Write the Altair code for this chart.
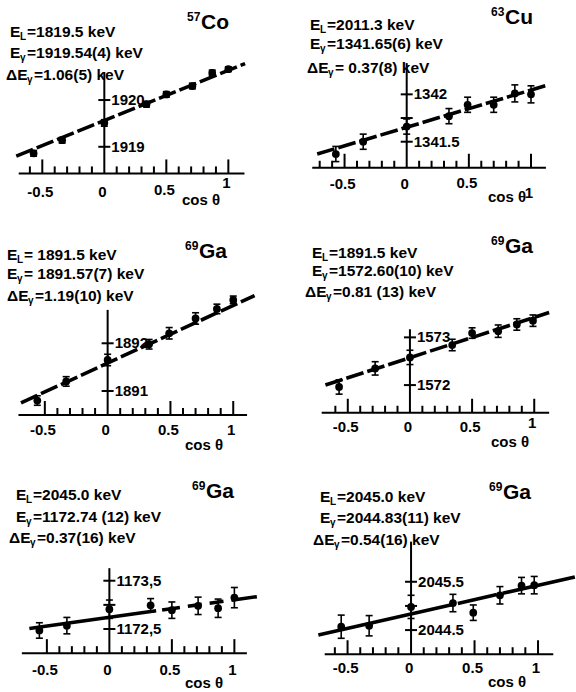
import altair as alt
import pandas as pd

W, H = 288, 230
FONT = "Liberation Sans"

# ---------------- data ----------------
# panel 1: 57Co
cos_p1 = [-0.57, -0.34, 0.0, 0.34, 0.50, 0.71, 0.87, 1.00]
E_p1 = [1918.86, 1919.14, 1919.51, 1919.91, 1920.12, 1920.30, 1920.58, 1920.66]
err_p1 = [0.06, 0.06, 0.07, 0.06, 0.06, 0.06, 0.06, 0.05]
fit_x_p1 = [-0.71, 1.135]
fit_y_p1 = [1918.80, 1920.78]

# panel 2: 63Cu
cos_p2 = [-0.57, -0.35, 0.0, 0.34, 0.49, 0.70, 0.87, 1.00]
E_p2 = [1341.37, 1341.50, 1341.66, 1341.77, 1341.89, 1341.89, 1342.01, 1342.00]
err_p2 = [0.08, 0.08, 0.08, 0.08, 0.08, 0.08, 0.09, 0.09]
fit_x_p2 = [-0.72, 1.14]
fit_y_p2 = [1341.37, 1342.10]

# panel 3: 69Ga 1891.57
cos_p3 = [-0.56, -0.33, 0.0, 0.33, 0.49, 0.70, 0.87, 1.00]
E_p3 = [1890.80, 1891.20, 1891.65, 1891.98, 1892.21, 1892.52, 1892.72, 1892.91]
err_p3 = [0.10, 0.10, 0.12, 0.10, 0.12, 0.12, 0.10, 0.08]
fit_x_p3 = [-0.69, 1.17]
fit_y_p3 = [1890.75, 1893.00]

# panel 4: 69Ga 1572.60
cos_p4 = [-0.57, -0.28, 0.0, 0.34, 0.50, 0.71, 0.86, 0.99]
E_p4 = [1571.96, 1572.35, 1572.58, 1572.84, 1573.09, 1573.13, 1573.27, 1573.35]
err_p4 = [0.15, 0.14, 0.15, 0.12, 0.11, 0.13, 0.12, 0.12]
fit_x_p4 = [-0.68, 1.12]
fit_y_p4 = [1572.00, 1573.52]

# panel 5: 69Ga 1172.74
cos_p5 = [-0.56, -0.34, 0.0, 0.33, 0.50, 0.71, 0.87, 1.00]
E_p5 = [1172.47, 1172.57, 1172.91, 1172.99, 1172.89, 1172.98, 1172.93, 1173.15]
err_p5 = [0.16, 0.17, 0.19, 0.14, 0.17, 0.18, 0.19, 0.21]
fit_x_p5 = [-0.64, 1.18]
fit_y_p5 = [1172.51, 1173.17]

# panel 6: 69Ga 2044.83
cos_p6 = [-0.55, -0.33, 0.0, 0.33, 0.49, 0.70, 0.87, 0.97]
E_p6 = [2044.57, 2044.59, 2044.98, 2045.06, 2044.86, 2045.22, 2045.42, 2045.43]
err_p6 = [0.24, 0.21, 0.24, 0.18, 0.16, 0.18, 0.17, 0.18]
fit_x_p6 = [-0.73, 1.29]
fit_y_p6 = [2044.40, 2045.60]

# header texts
hdr_p1 = [("E", "L", "=1819.5  keV"), ("E", "γ", "=1919.54(4) keV"), ("ΔE", "γ", "=1.06(5) keV")]
hdr_p2 = [("E", "L", " =2011.3 keV"), ("E", "γ", "=1341.65(6) keV"), ("ΔE", "γ", " = 0.37(8) keV")]
hdr_p3 = [("E", "L", " = 1891.5 keV"), ("E", "γ", " = 1891.57(7) keV"), ("ΔE", "γ", "=1.19(10) keV")]
hdr_p4 = [("E", "L", " =1891.5 keV"), ("E", "γ", " =1572.60(10) keV"), ("ΔE", "γ", "=0.81 (13) keV")]
hdr_p5 = [("E", "L", " =2045.0 keV"), ("E", "γ", " =1172.74 (12) keV"), ("ΔE", "γ", "=0.37(16) keV")]
hdr_p6 = [("E", "L", " =2045.0 keV"), ("E", "γ", "=2044.83(11) keV"), ("ΔE", "γ", "=0.54(16) keV")]
iso_mass = ["57", "63", "69", "69", "69", "69"]
iso_elem = ["Co", "Cu", "Ga", "Ga", "Ga", "Ga"]

# y-axis ticks (labelled) and unlabelled half ticks
yt_p1, ytl_p1, ym_p1 = [1919.0, 1920.0], ["1919", "1920"], []
yt_p2, ytl_p2, ym_p2 = [1341.5, 1342.0], ["1341.5", "1342"], [1341.75]
yt_p3, ytl_p3, ym_p3 = [1891.0, 1892.0], ["1891", "1892"], []
yt_p4, ytl_p4, ym_p4 = [1572.0, 1573.0], ["1572", "1573"], []
yt_p5, ytl_p5, ym_p5 = [1172.5, 1173.5], ["1172,5", "1173,5"], [1173.0]
yt_p6, ytl_p6, ym_p6 = [2044.5, 2045.5], ["2044.5", "2045.5"], [2045.0]

xtick_vals = [-0.5, 0.0, 0.5, 1.0]
xtick_text = ["-0.5", "0", "0.5", "1"]
xminor_all = [-0.7, -0.6, -0.4, -0.3, -0.2, -0.1, 0.1, 0.2, 0.3, 0.4, 0.6, 0.7, 0.8, 0.9]
xmajor_all = [-0.5, 0.5, 1.0]

# ---------------- layout (pixels within each 288x230 panel) ----------------
layout = [
    dict(xdom=[-0.841, 1.481], ydom=[1917.22, 1922.14], axisE=1918.43, xspan=[-0.69, 1.13], ytop=1920.6,
         tick0=-0.6, lbl_off=[19, 19, 17, 10], hdr_pos=[(10, 32), (10, 53), (6, 75)], iso_pos=(187, 23),
         cos_pos=(182, 200), dash=[18, 4]),
    dict(xdom=[-0.955, 1.362], ydom=[1340.568, 1342.996], axisE=1341.225, xspan=[-0.76, 1.12], ytop=1342.33,
         tick0=-0.7, lbl_off=[16, 16, 15, 25], hdr_pos=[(22, 25), (22, 44), (19, 68)], iso_pos=(203, 18),
         cos_pos=(200, 197), dash=[18, 4]),
    dict(xdom=[-0.857, 1.436], ydom=[1889.553, 1894.375], axisE=1890.497, xspan=[-0.71, 1.11], ytop=1892.7,
         tick0=-0.5, lbl_off=[15, 15, 15, 15], hdr_pos=[(7, 25), (7, 44), (7, 66)], iso_pos=(185, 22),
         cos_pos=(185, 215), dash=[18, 4]),
    dict(xdom=[-0.981, 1.336], ydom=[1570.43, 1575.25], axisE=1571.42, xspan=[-0.71, 1.12], ytop=1573.17,
         tick0=-0.6, lbl_off=[14, 14, 14, 10], hdr_pos=[(24, 23), (24, 41), (17, 62)], iso_pos=(203, 17),
         cos_pos=(203, 212), dash=[18, 4]),
    dict(xdom=[-0.875, 1.429], ydom=[1171.237, 1176.0], axisE=1172.0, xspan=[-0.70, 1.10], ytop=1173.76,
         tick0=-0.5, lbl_off=[17, 17, 17, 17], hdr_pos=[(16, 35), (16, 57), (9, 78)], iso_pos=(192, 32),
         cos_pos=(185, 223), dash=[128, 6, 18, 8, 14, 8, 14, 8, 30]),
    dict(xdom=[-0.969, 1.299], ydom=[2043.26, 2048.02], axisE=2044.0, xspan=[-0.68, 1.12], ytop=2046.33,
         tick0=-0.6, lbl_off=[14, 14, 14, 14], hdr_pos=[(32, 37), (32, 58), (25, 80)], iso_pos=(201, 33),
         cos_pos=(200, 222), dash=[139, 4, 40, 6, 200]),
]

series = [
    (cos_p1, E_p1, err_p1, fit_x_p1, fit_y_p1, hdr_p1, yt_p1, ytl_p1, ym_p1),
    (cos_p2, E_p2, err_p2, fit_x_p2, fit_y_p2, hdr_p2, yt_p2, ytl_p2, ym_p2),
    (cos_p3, E_p3, err_p3, fit_x_p3, fit_y_p3, hdr_p3, yt_p3, ytl_p3, ym_p3),
    (cos_p4, E_p4, err_p4, fit_x_p4, fit_y_p4, hdr_p4, yt_p4, ytl_p4, ym_p4),
    (cos_p5, E_p5, err_p5, fit_x_p5, fit_y_p5, hdr_p5, yt_p5, ytl_p5, ym_p5),
    (cos_p6, E_p6, err_p6, fit_x_p6, fit_y_p6, hdr_p6, yt_p6, ytl_p6, ym_p6),
]


def make_panel(i):
    L = layout[i]
    cs, es, er, fx, fy, hdr, yt, ytl, ym = series[i]
    x0, x1 = L["xdom"]
    y0, y1 = L["ydom"]

    def to_data(px, py):
        return x0 + px / W * (x1 - x0), y1 - py / H * (y1 - y0)

    def dy_units(px):
        return px * (y1 - y0) / H

    def dx_units(px):
        return px * (x1 - x0) / W

    xs = alt.Scale(domain=L["xdom"], nice=False, zero=False)
    ys = alt.Scale(domain=L["ydom"], nice=False, zero=False)

    def X(f):
        return alt.X(f"{f}:Q", scale=xs, axis=None)

    def Y(f):
        return alt.Y(f"{f}:Q", scale=ys, axis=None)

    ax = float(L["axisE"])
    lo = [e - d for e, d in zip(es, er)]
    hi = [e + d for e, d in zip(es, er)]
    t0 = L["tick0"] - 1e-6
    minor = [t for t in xminor_all if t >= t0]
    major = list(xmajor_all)
    yall = [float(v) for v in list(yt) + list(ym)]

    # vertical segments: y-axis line, error bars, x-axis ticks
    vx, va, vb, vw = [0.0], [ax], [float(L["ytop"])], [2.0]
    for c, l, h in zip(cs, lo, hi):
        vx.append(c); va.append(l); vb.append(h); vw.append(1.6)
    for t in minor:
        vx.append(t); va.append(ax); vb.append(ax + dy_units(7)); vw.append(2.0)
    for t in major:
        vx.append(t); va.append(ax); vb.append(ax + dy_units(14)); vw.append(2.0)
    vdf = pd.DataFrame({"vx": vx, "va": va, "vb": vb, "vw": vw})

    # horizontal segments: x-axis line, error-bar caps, y-axis ticks
    ha, hb, hy, hw = [float(L["xspan"][0])], [float(L["xspan"][1])], [ax], [2.0]
    for c, l, h in zip(cs, lo, hi):
        for v in (l, h):
            ha.append(c - dx_units(3.5)); hb.append(c + dx_units(3.5)); hy.append(v); hw.append(1.6)
    for v in yall:
        ha.append(-dx_units(6)); hb.append(dx_units(6)); hy.append(v); hw.append(2.0)
    hdf = pd.DataFrame({"ha": ha, "hb": hb, "hy": hy, "hw": hw})

    layers = []
    layers.append(
        alt.Chart(vdf).mark_rule(color="black").encode(
            x=X("vx"), y=Y("va"), y2="vb", strokeWidth=alt.StrokeWidth("vw:Q", scale=None))
    )
    layers.append(
        alt.Chart(hdf).mark_rule(color="black").encode(
            x=X("ha"), x2="hb", y=Y("hy"), strokeWidth=alt.StrokeWidth("hw:Q", scale=None))
    )
    # y tick labels
    layers.append(
        alt.Chart(pd.DataFrame({"yl_x": [0.0] * len(yt), "yl_y": yt, "yl_t": ytl}))
        .mark_text(align="left", baseline="middle", dx=7, fontSize=15, font=FONT, fontWeight="bold", color="black")
        .encode(x=X("yl_x"), y=Y("yl_y"), text="yl_t:N")
    )
    # x tick labels
    ly = [ax - dy_units(o) for o in L["lbl_off"]]
    layers.append(
        alt.Chart(pd.DataFrame({"xl_x": list(xtick_vals), "xl_y": ly, "xl_t": xtick_text}))
        .mark_text(align="center", baseline="middle", dx=-2, fontSize=15, font=FONT, fontWeight="bold", color="black")
        .encode(x=X("xl_x"), y=Y("xl_y"), text="xl_t:N")
    )
    # fit line
    layers.append(
        alt.Chart(pd.DataFrame({"f_x": fx, "f_y": fy}))
        .mark_line(color="black", strokeWidth=3.6, strokeDash=L["dash"], clip=True)
        .encode(x=X("f_x"), y=Y("f_y"), order="f_x:Q")
    )
    # points
    layers.append(
        alt.Chart(pd.DataFrame({"pt_x": cs, "pt_E": es}))
        .mark_circle(size=60, color="black", opacity=1)
        .encode(x=X("pt_x"), y=Y("pt_E"))
    )
    # header text
    rows = []
    for (pre, sub, rest), (px, py) in zip(hdr, L["hdr_pos"]):
        w = 10 if pre == "E" else 21
        for t, ox, oy, fs in [(pre, 0, 0, 15.5), (sub, w, 5, 10), (rest, w + 7, 0, 15.5)]:
            dx_, dy_ = to_data(px + ox, py + oy)
            rows.append({"h_x": dx_, "h_y": dy_, "h_t": t, "h_fs": fs})
    ix, iy = L["iso_pos"]
    a, b = to_data(ix, iy - 6)
    rows.append({"h_x": a, "h_y": b, "h_t": iso_mass[i], "h_fs": 12})
    a, b = to_data(ix + 14, iy)
    rows.append({"h_x": a, "h_y": b, "h_t": iso_elem[i], "h_fs": 21})
    cx, cy = L["cos_pos"]
    a, b = to_data(cx, cy)
    rows.append({"h_x": a, "h_y": b, "h_t": "cos θ", "h_fs": 15})
    layers.append(
        alt.Chart(pd.DataFrame(rows))
        .mark_text(align="left", baseline="middle", font=FONT, fontWeight="bold", color="black")
        .encode(x=X("h_x"), y=Y("h_y"), text="h_t:N", size=alt.Size("h_fs:Q", scale=None))
    )
    return alt.layer(*layers).properties(width=W, height=H)


panels = [make_panel(i) for i in range(6)]
chart = (
    alt.concat(*panels, columns=2, spacing=0, bounds="flush")
    .resolve_scale(x="independent", y="independent")
    .properties(padding=0, background="white")
    .configure_view(stroke=None)
)
chart.save("out.html", embed_options={"renderer": "svg", "actions": False})
